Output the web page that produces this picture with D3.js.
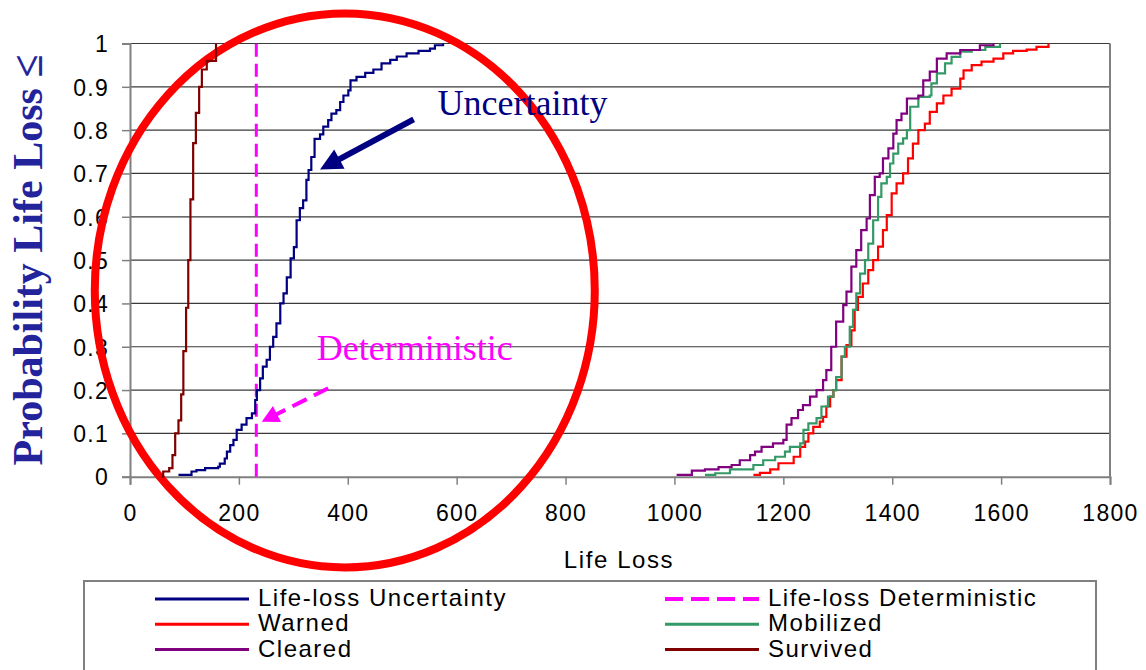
<!DOCTYPE html>
<html>
<head>
<meta charset="utf-8">
<script src="https://cdn.jsdelivr.net/npm/d3@7"></script>
<style>
  body { margin: 0; background: #fff; }
  svg { display: block; }
</style>
</head>
<body>
<script>
// tick values
var xTicks = [0, 200, 400, 600, 800, 1000, 1200, 1400, 1600, 1800];
var yTicks = [0, 0.1, 0.2, 0.3, 0.4, 0.5, 0.6, 0.7, 0.8, 0.9, 1];
var yTickLabels = ["0", "0.1", "0.2", "0.3", "0.4", "0.5", "0.6", "0.7", "0.8", "0.9", "1"];

// cumulative curves (life loss, probability)
var uncertaintyLoss = [89, 113, 122, 138, 162, 165, 174, 178, 184, 190, 196, 205, 214, 224, 230, 233, 239, 244, 251, 257, 263, 269, 276, 282, 288, 295, 301, 306, 312, 318, 324, 328, 333, 339, 349, 355, 364, 370, 379, 386, 392, 401, 405, 416, 432, 447, 462, 478, 490, 508, 530, 551, 560, 575];
var uncertaintyProb = [0.004, 0.012, 0.015, 0.02, 0.023, 0.03, 0.042, 0.058, 0.073, 0.085, 0.108, 0.12, 0.135, 0.146, 0.177, 0.2, 0.227, 0.254, 0.27, 0.3, 0.323, 0.354, 0.4, 0.423, 0.46, 0.504, 0.53, 0.592, 0.62, 0.638, 0.685, 0.708, 0.738, 0.78, 0.79, 0.808, 0.823, 0.838, 0.846, 0.865, 0.88, 0.892, 0.915, 0.923, 0.932, 0.94, 0.954, 0.962, 0.97, 0.977, 0.983, 0.988, 0.996, 1];

var deterministicLoss = 232;

var warnedLoss = [1145, 1157, 1176, 1191, 1212, 1219, 1231, 1240, 1246, 1255, 1267, 1273, 1279, 1286, 1292, 1297, 1307, 1316, 1325, 1331, 1337, 1346, 1356, 1365, 1374, 1383, 1390, 1399, 1408, 1420, 1429, 1438, 1448, 1460, 1469, 1482, 1494, 1509, 1525, 1531, 1546, 1564, 1586, 1604, 1622, 1647, 1665, 1687];
var warnedProb = [0.004, 0.009, 0.017, 0.031, 0.031, 0.046, 0.069, 0.081, 0.1, 0.115, 0.127, 0.138, 0.162, 0.185, 0.2, 0.223, 0.277, 0.304, 0.338, 0.385, 0.415, 0.446, 0.477, 0.5, 0.531, 0.569, 0.604, 0.654, 0.677, 0.7, 0.735, 0.769, 0.8, 0.815, 0.842, 0.862, 0.88, 0.896, 0.919, 0.938, 0.95, 0.958, 0.965, 0.977, 0.983, 0.986, 0.992, 1];

var mobilizedLoss = [1056, 1075, 1102, 1145, 1163, 1185, 1203, 1212, 1231, 1237, 1246, 1261, 1270, 1282, 1292, 1297, 1307, 1313, 1322, 1328, 1334, 1341, 1350, 1356, 1365, 1374, 1380, 1390, 1396, 1402, 1411, 1420, 1427, 1433, 1448, 1469, 1472, 1482, 1497, 1509, 1525, 1546, 1571, 1598];
var mobilizedProb = [0.004, 0.008, 0.017, 0.027, 0.038, 0.046, 0.058, 0.069, 0.077, 0.108, 0.123, 0.135, 0.162, 0.185, 0.2, 0.23, 0.277, 0.3, 0.346, 0.385, 0.423, 0.469, 0.5, 0.538, 0.592, 0.646, 0.677, 0.692, 0.723, 0.746, 0.769, 0.781, 0.8, 0.854, 0.877, 0.88, 0.908, 0.931, 0.954, 0.969, 0.981, 0.985, 0.992, 1];

var clearedLoss = [1004, 1019, 1032, 1056, 1081, 1105, 1120, 1139, 1148, 1160, 1181, 1200, 1206, 1215, 1227, 1236, 1249, 1261, 1273, 1279, 1288, 1297, 1310, 1316, 1325, 1334, 1343, 1353, 1359, 1368, 1377, 1383, 1393, 1402, 1408, 1417, 1427, 1448, 1457, 1469, 1482, 1500, 1525, 1561, 1586];
var clearedProb = [0.004, 0.004, 0.014, 0.017, 0.022, 0.027, 0.038, 0.05, 0.058, 0.069, 0.077, 0.085, 0.12, 0.135, 0.154, 0.165, 0.185, 0.2, 0.223, 0.246, 0.3, 0.358, 0.396, 0.427, 0.485, 0.523, 0.569, 0.596, 0.65, 0.692, 0.7, 0.735, 0.758, 0.792, 0.823, 0.838, 0.873, 0.88, 0.915, 0.935, 0.965, 0.977, 0.985, 0.996, 1];

var survivedLoss = [58, 61, 72, 78, 83, 89, 94, 98, 103, 107, 111, 116, 121, 127, 132, 141, 158];
var survivedProb = [0, 0.012, 0.02, 0.05, 0.1, 0.13, 0.19, 0.29, 0.39, 0.5, 0.64, 0.77, 0.84, 0.9, 0.94, 0.96, 1];

var seriesNames = ["Life-loss Uncertainty", "Life-loss Deterministic", "Warned", "Mobilized", "Cleared", "Survived"];
var seriesColors = ["#000080", "#ff00ff", "#ff0000", "#339966", "#800080", "#800000"];

function makeSeries(loss, prob) {
    return loss.map(function(d, i) { return {x: d, p: prob[i]}; });
}

var curves = [
    {name: "Life-loss Uncertainty", data: makeSeries(uncertaintyLoss, uncertaintyProb)},
    {name: "Warned", data: makeSeries(warnedLoss, warnedProb)},
    {name: "Mobilized", data: makeSeries(mobilizedLoss, mobilizedProb)},
    {name: "Cleared", data: makeSeries(clearedLoss, clearedProb)},
    {name: "Survived", data: makeSeries(survivedLoss, survivedProb)}
];

function colorOf(name) { return seriesColors[seriesNames.indexOf(name)]; }

var svg = d3.select("body").append("svg")
    .attr("width", 1146)
    .attr("height", 670);

var xScale = d3.scaleLinear().domain([0, 1800]).range([130, 1110]);
var yScale = d3.scaleLinear().domain([0, 1]).range([476.7, 43.5]);

var sans = "'Liberation Sans', Arial, sans-serif";
var serif = "'Liberation Serif', 'Times New Roman', serif";

// gridlines
svg.append("g").selectAll("line")
    .data(yTicks.slice(1))
    .enter().append("line")
    .attr("x1", xScale(0)).attr("x2", xScale(1800))
    .attr("y1", function(d) { return yScale(d); })
    .attr("y2", function(d) { return yScale(d); })
    .attr("stroke", "#3a3a3a")
    .attr("stroke-width", 1.2);

// right border of plot area
svg.append("line")
    .attr("x1", xScale(1800)).attr("x2", xScale(1800))
    .attr("y1", yScale(1)).attr("y2", yScale(0))
    .attr("stroke", "#808080").attr("stroke-width", 2);

var xAxis = svg.append("g")
    .attr("transform", "translate(0," + yScale(0) + ")")
    .call(d3.axisBottom(xScale).tickValues(xTicks).tickSize(8).tickPadding(20).tickFormat(d3.format("d")));

var yAxis = svg.append("g")
    .attr("transform", "translate(" + xScale(0) + ",0)")
    .call(d3.axisLeft(yScale).tickValues(yTicks).tickSize(8).tickPadding(13)
        .tickFormat(function(d, i) { return yTickLabels[i]; }));

[xAxis, yAxis].forEach(function(g) {
    g.select(".domain").attr("stroke", "#808080").attr("stroke-width", 2);
    g.selectAll(".tick line").attr("stroke", "#808080").attr("stroke-width", 1.5);
    g.selectAll(".tick text")
        .attr("fill", "#000")
        .style("font-family", sans)
        .style("font-size", "23px")
        .style("letter-spacing", "1.3px");
});
yAxis.selectAll(".tick text").attr("dy", "0.36em");

// axis titles
svg.append("text")
    .attr("x", 619).attr("y", 568)
    .attr("text-anchor", "middle")
    .style("font-family", sans).style("font-size", "24px").style("letter-spacing", "1.6px")
    .text("Life Loss");

svg.append("text")
    .attr("transform", "translate(42,260) rotate(-90)")
    .attr("text-anchor", "middle")
    .attr("fill", "#23239c")
    .style("font-family", serif).style("font-size", "42px").style("font-weight", "bold")
    .text("Probability Life Loss \u2264");

// red highlight ellipse
svg.append("ellipse")
    .attr("cx", xScale(400) - 3).attr("cy", yScale(0.43))
    .attr("rx", 250).attr("ry", 277)
    .attr("fill", "none")
    .attr("stroke", "#ff0000")
    .attr("stroke-width", 8);

// deterministic line
svg.append("line")
    .attr("x1", xScale(deterministicLoss)).attr("x2", xScale(deterministicLoss))
    .attr("y1", yScale(0)).attr("y2", yScale(1))
    .attr("stroke", colorOf("Life-loss Deterministic"))
    .attr("stroke-width", 3)
    .attr("stroke-dasharray", "13,7");

// CDF step lines
var line = d3.line()
    .x(function(d) { return xScale(d.x); })
    .y(function(d) { return yScale(d.p); })
    .curve(d3.curveStepAfter);

svg.append("g").selectAll("path")
    .data(curves)
    .enter().append("path")
    .attr("d", function(d) { return line(d.data); })
    .attr("fill", "none")
    .attr("stroke", function(d) { return colorOf(d.name); })
    .attr("stroke-width", 2.2);

// annotation arrows
function arrow(from, to, color, width, headLen, headHalf, dash) {
    var x1 = xScale(from[0]), y1 = yScale(from[1]);
    var x2 = xScale(to[0]), y2 = yScale(to[1]);
    var dx = x2 - x1, dy = y2 - y1, len = Math.sqrt(dx * dx + dy * dy);
    var ux = dx / len, uy = dy / len;
    var bx = x2 - ux * headLen, by = y2 - uy * headLen;
    svg.append("line")
        .attr("x1", x1).attr("y1", y1).attr("x2", bx + ux * 2).attr("y2", by + uy * 2)
        .attr("stroke", color).attr("stroke-width", width)
        .attr("stroke-dasharray", dash || null);
    svg.append("polygon")
        .attr("points", [[x2, y2], [bx - uy * headHalf, by + ux * headHalf], [bx + uy * headHalf, by - ux * headHalf]].join(" "))
        .attr("fill", color);
}

arrow([521, 0.825], [349, 0.709], "#000080", 6, 22, 11);
arrow([364, 0.204], [242, 0.127], "#ff00ff", 4, 17, 9, "16,8");

svg.append("text")
    .attr("x", xScale(565)).attr("y", yScale(0.835))
    .attr("fill", "#000080")
    .style("font-family", serif).style("font-size", "36px")
    .text("Uncertainty");

svg.append("text")
    .attr("x", xScale(343)).attr("y", yScale(0.269))
    .attr("fill", "#ff00ff")
    .style("font-family", serif).style("font-size", "36px")
    .text("Deterministic");

// legend
var legend = svg.append("g");
legend.append("rect")
    .attr("x", 84).attr("y", 581)
    .attr("width", 1012).attr("height", 100)
    .attr("fill", "#fff")
    .attr("stroke", "#808080").attr("stroke-width", 2);

var items = legend.selectAll("g.item")
    .data(seriesNames)
    .enter().append("g")
    .attr("class", "item")
    .attr("transform", function(d, i) {
        return "translate(" + (i % 2 === 0 ? 155 : 665) + "," + (599 + Math.floor(i / 2) * 25.3) + ")";
    });

items.append("line")
    .attr("x1", 0).attr("x2", 94)
    .attr("stroke", colorOf)
    .attr("stroke-width", function(d) { return d === "Life-loss Deterministic" ? 4 : 3; })
    .attr("stroke-dasharray", function(d) { return d === "Life-loss Deterministic" ? "18,8" : null; });

items.append("text")
    .attr("x", 103).attr("y", 7)
    .style("font-family", sans).style("font-size", "24px").style("letter-spacing", "1.5px")
    .text(function(d) { return d; });
</script>
</body>
</html>
